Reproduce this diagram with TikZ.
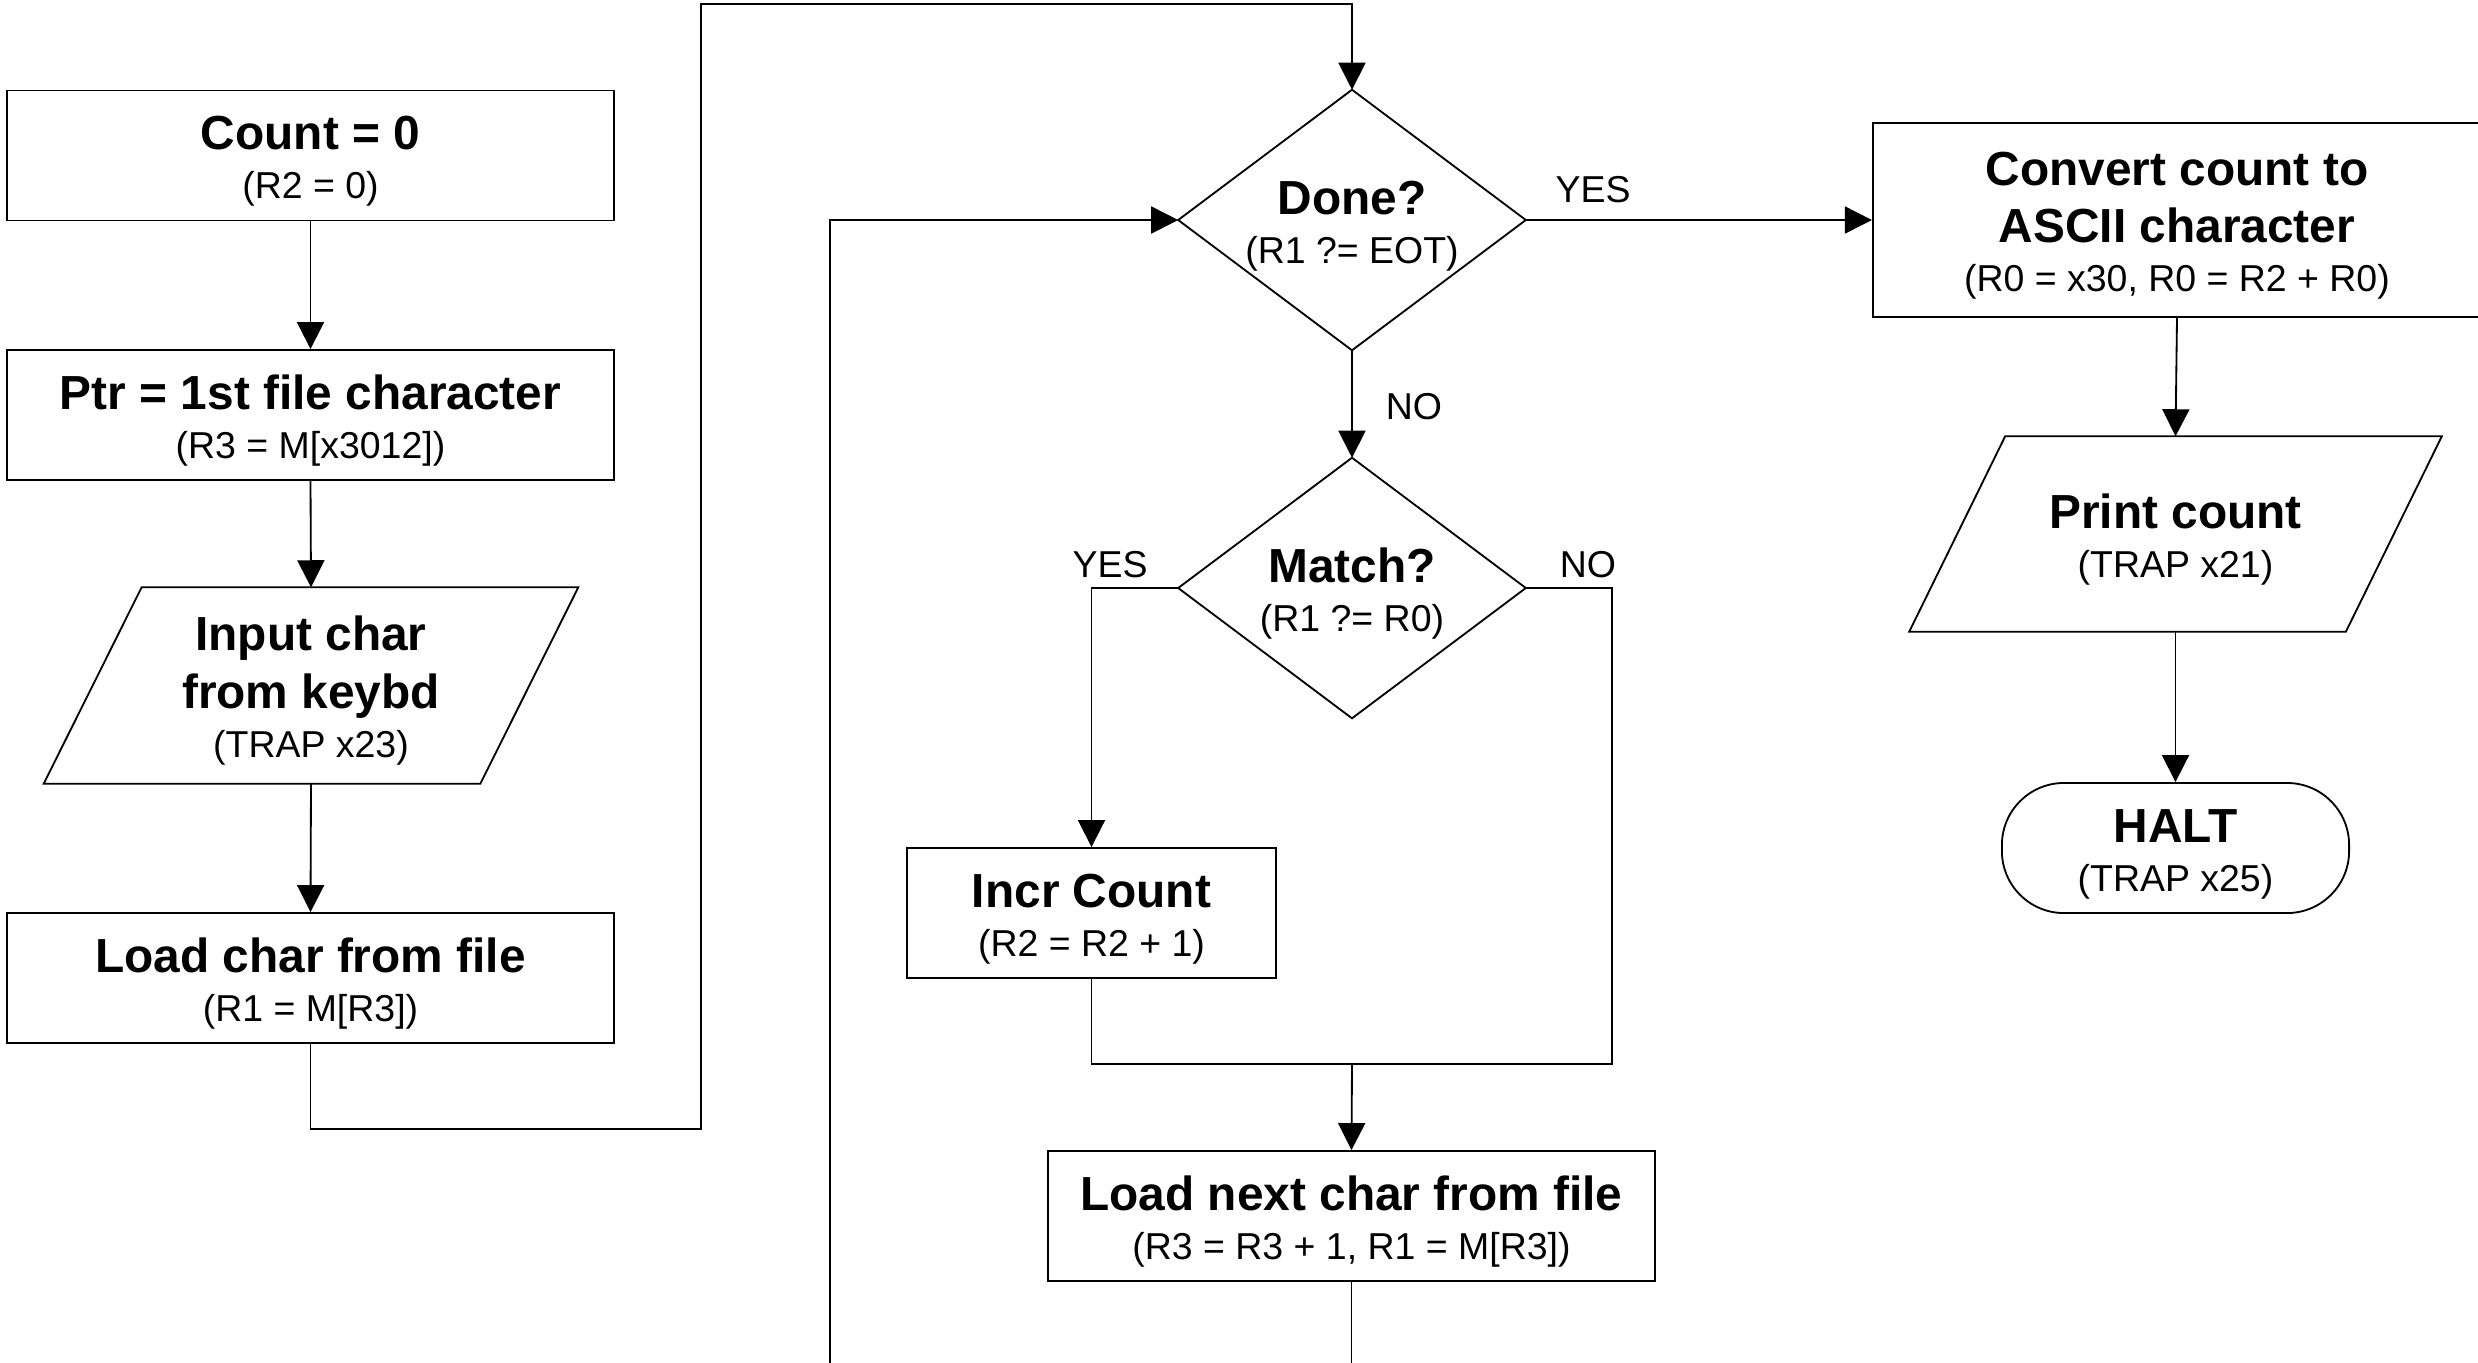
\documentclass[tikz,border=0pt]{standalone}
\usepackage{fontspec}
\setmainfont{Liberation Sans}
\usetikzlibrary{arrows.meta,calc}
\newcommand\flttl{\fontsize{13.6}{16}\selectfont\bfseries}
\newcommand\flsub{\fontsize{10.65}{14}\selectfont}
\newcommand\flstr{\rule{0pt}{12.8pt}}
\begin{document}
\begin{tikzpicture}[x=0.01cm,y=-0.01cm,
  lc/.style={draw=black,line width=0.52pt},
  box/.style={lc,rectangle,inner sep=0pt,align=center,font=\flsub},
  plain/.style={rectangle,inner sep=0pt,align=center,font=\flsub},
  arr/.style={lc,-{Triangle[length=0.27cm,width=0.27cm]}},
  lbl/.style={font=\flsub,inner sep=0pt}]
\useasboundingbox (0,0) rectangle (2478,1362);
\fill[white] (0,0) rectangle (2478,1362);
\clip (0,0) rectangle (2478,1362);

% left column
\node[box,minimum width=6.07cm,minimum height=1.3cm] (count) at (310.5,155.5) {{\flttl\flstr Count = 0}\\(R2 = 0)};
\node[box,minimum width=6.07cm,minimum height=1.3cm] (ptr) at (310.5,415) {{\flttl\flstr Ptr = 1st file character}\\(R3 = M[x3012])};
\node[plain,minimum width=4.35cm,minimum height=1.95cm] (input) at (311,685.5) {{\flttl\flstr Input char}\\[2.3pt]{\flttl from keybd}\\(TRAP x23)};
\draw[lc] ($(input.north west)+(49,0)$) -- ($(input.north east)+(49,0)$) -- ($(input.south east)+(-49,0)$) -- ($(input.south west)+(-49,0)$) -- cycle;
\node[box,minimum width=6.07cm,minimum height=1.3cm] (loadc) at (310.5,978) {{\flttl\flstr Load char from file}\\(R1 = M[R3])};

% middle column
\node[plain,minimum width=3.46cm,minimum height=2.59cm] (done) at (1352,220) {{\flttl\flstr Done?}\\(R1 ?= EOT)};
\draw[lc] (done.north) -- (done.east) -- (done.south) -- (done.west) -- cycle;
\node[plain,minimum width=3.46cm,minimum height=2.59cm] (match) at (1352,588) {{\flttl\flstr Match?}\\(R1 ?= R0)};
\draw[lc] (match.north) -- (match.east) -- (match.south) -- (match.west) -- cycle;
\node[box,minimum width=3.69cm,minimum height=1.3cm] (incr) at (1091.5,913) {{\flttl\flstr Incr Count}\\(R2 = R2 + 1)};
\node[box,minimum width=6.07cm,minimum height=1.3cm] (loadn) at (1351.5,1216) {{\flttl\flstr Load next char from file}\\(R3 = R3 + 1, R1 = M[R3])};

% right column
\node[box,minimum width=6.08cm,minimum height=1.94cm] (convert) at (2177,220) {{\flttl\flstr Convert count to}\\[2.3pt]{\flttl ASCII character}\\(R0 = x30, R0 = R2 + R0)};
\node[plain,minimum width=4.35cm,minimum height=1.94cm] (print) at (2175.5,534) {{\flttl\flstr Print count}\\(TRAP x21)};
\draw[lc] ($(print.north west)+(48,0)$) -- ($(print.north east)+(48,0)$) -- ($(print.south east)+(-48,0)$) -- ($(print.south west)+(-48,0)$) -- cycle;
\node[box,rounded corners=0.62cm,minimum width=3.47cm,minimum height=1.3cm] (halt) at (2175.5,848) {{\flttl\flstr HALT}\\(TRAP x25)};

% connectors
\draw[arr] (count.south) -- (ptr.north);
\draw[arr] (ptr.south) -- (input.north);
\draw[arr] (input.south) -- (loadc.north);
\draw[arr] (loadc.south) |- (701,1129) -- (701,4) -| (done.north);
\draw[arr] (done.east) -- (convert.west);
\draw[arr] (done.south) -- (match.north);
\draw[arr] (match.west) -| (incr.north);
\coordinate (join) at (1352,1064);
\draw[lc] (match.east) -| (1612,1064) -- (incr.south |- join) -- (incr.south);
\draw[arr] (join) -- (loadn.north);
\draw[arr] (loadn.south) -- ++(0,140) -| (830,220) -- (done.west);
\draw[arr] (convert.south) -- (print.north);
\draw[arr] (print.south) -- (halt.north);

% labels
\node[lbl] (yes1) at (1593,190) {YES};
\node[lbl] (no1) at (1414,407) {NO};
\node[lbl] (yes2) at (1110,565) {YES};
\node[lbl] (no2) at (1588,565) {NO};
\end{tikzpicture}
\end{document}
